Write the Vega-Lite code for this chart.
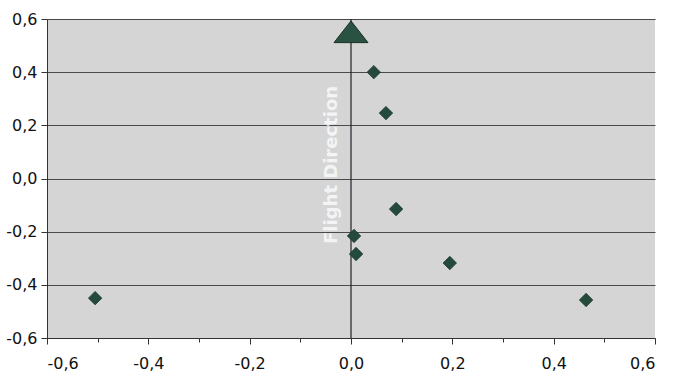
{
  "$schema": "https://vega.github.io/schema/vega-lite/v6.json",
  "width": 608,
  "height": 319,
  "autosize": {"type": "none"},
  "padding": {"left": 47, "top": 19, "right": 21, "bottom": 47},
  "background": "white",
  "config": {
    "view": {"fill": "#d5d5d5", "stroke": null},
    "font": "DejaVu Sans",
    "axis": {"labelFont": "DejaVu Sans", "labelFontSize": 16, "labelColor": "#111", "domainColor": "#333", "tickColor": "#333"}
  },
  "datasets": {
    "points": [
      {"x": 0.045, "y": 0.40},
      {"x": 0.069, "y": 0.246},
      {"x": 0.089, "y": -0.115},
      {"x": 0.006, "y": -0.216},
      {"x": 0.010, "y": -0.284},
      {"x": 0.195, "y": -0.318},
      {"x": -0.505, "y": -0.45},
      {"x": 0.464, "y": -0.457}
    ],
    "shaft": [{"x": 0, "y": -0.6, "y2": 0.6}],
    "head": [{"x": 0, "y": 0.552}],
    "label": [{"x": -0.038, "y": 0.051, "text": "Flight Direction"}]
  },
  "layer": [
    {
      "data": {"name": "shaft"},
      "mark": {"type": "rule", "color": "#222", "strokeWidth": 1.2},
      "encoding": {
        "x": {"field": "x", "type": "quantitative", "scale": {"domain": [-0.6, 0.6], "nice": false, "zero": false},
          "axis": {"values": [-0.6,-0.5,-0.4,-0.3,-0.2,-0.1,0,0.1,0.2,0.3,0.4,0.5,0.6], "grid": false, "title": null,
            "tickSize": {"condition": {"test": "round(datum.value*10) % 2 != 0", "value": 4}, "value": 6},
            "labelExpr": "round(datum.value*10) % 2 != 0 ? '' : replace(replace(format(datum.value, '.1f'), '.', ','), '\u2212', '-')",
            "labelPadding": 11}},
        "y": {"field": "y", "type": "quantitative", "scale": {"domain": [-0.6, 0.6], "nice": false, "zero": false},
          "axis": {"values": [-0.6,-0.5,-0.4,-0.3,-0.2,-0.1,0,0.1,0.2,0.3,0.4,0.5,0.6], "grid": true, "title": null,
            "gridColor": "#4a4a4a", "gridWidth": 1,
            "gridOpacity": {"condition": {"test": "round(datum.value*10) % 2 != 0", "value": 0}, "value": 1},
            "tickSize": {"condition": {"test": "round(datum.value*10) % 2 != 0", "value": 4}, "value": 6},
            "labelExpr": "round(datum.value*10) % 2 != 0 ? '' : replace(replace(format(datum.value, '.1f'), '.', ','), '\u2212', '-')",
            "labelPadding": 4}},
        "y2": {"field": "y2"}
      }
    },
    {
      "data": {"name": "points"},
      "mark": {"type": "point", "shape": "diamond", "filled": true, "size": 180, "color": "#244a3b", "opacity": 1, "stroke": "#1a3a2d", "strokeWidth": 0.8},
      "encoding": {
        "x": {"field": "x", "type": "quantitative"},
        "y": {"field": "y", "type": "quantitative"}
      }
    },
    {
      "data": {"name": "head"},
      "mark": {"type": "point", "shape": "M0,-0.64L1,0.64L-1,0.64Z", "filled": true, "size": 1150, "color": "#2a5242", "opacity": 1, "stroke": "#1a2f25", "strokeWidth": 1},
      "encoding": {
        "x": {"field": "x", "type": "quantitative"},
        "y": {"field": "y", "type": "quantitative"}
      }
    },
    {
      "data": {"name": "label"},
      "mark": {"type": "text", "angle": 270, "fontSize": 18, "fontWeight": "bold", "color": "#f4f4f4", "align": "center", "baseline": "middle", "font": "DejaVu Sans"},
      "encoding": {
        "x": {"field": "x", "type": "quantitative"},
        "y": {"field": "y", "type": "quantitative"},
        "text": {"field": "text"}
      }
    }
  ]
}
